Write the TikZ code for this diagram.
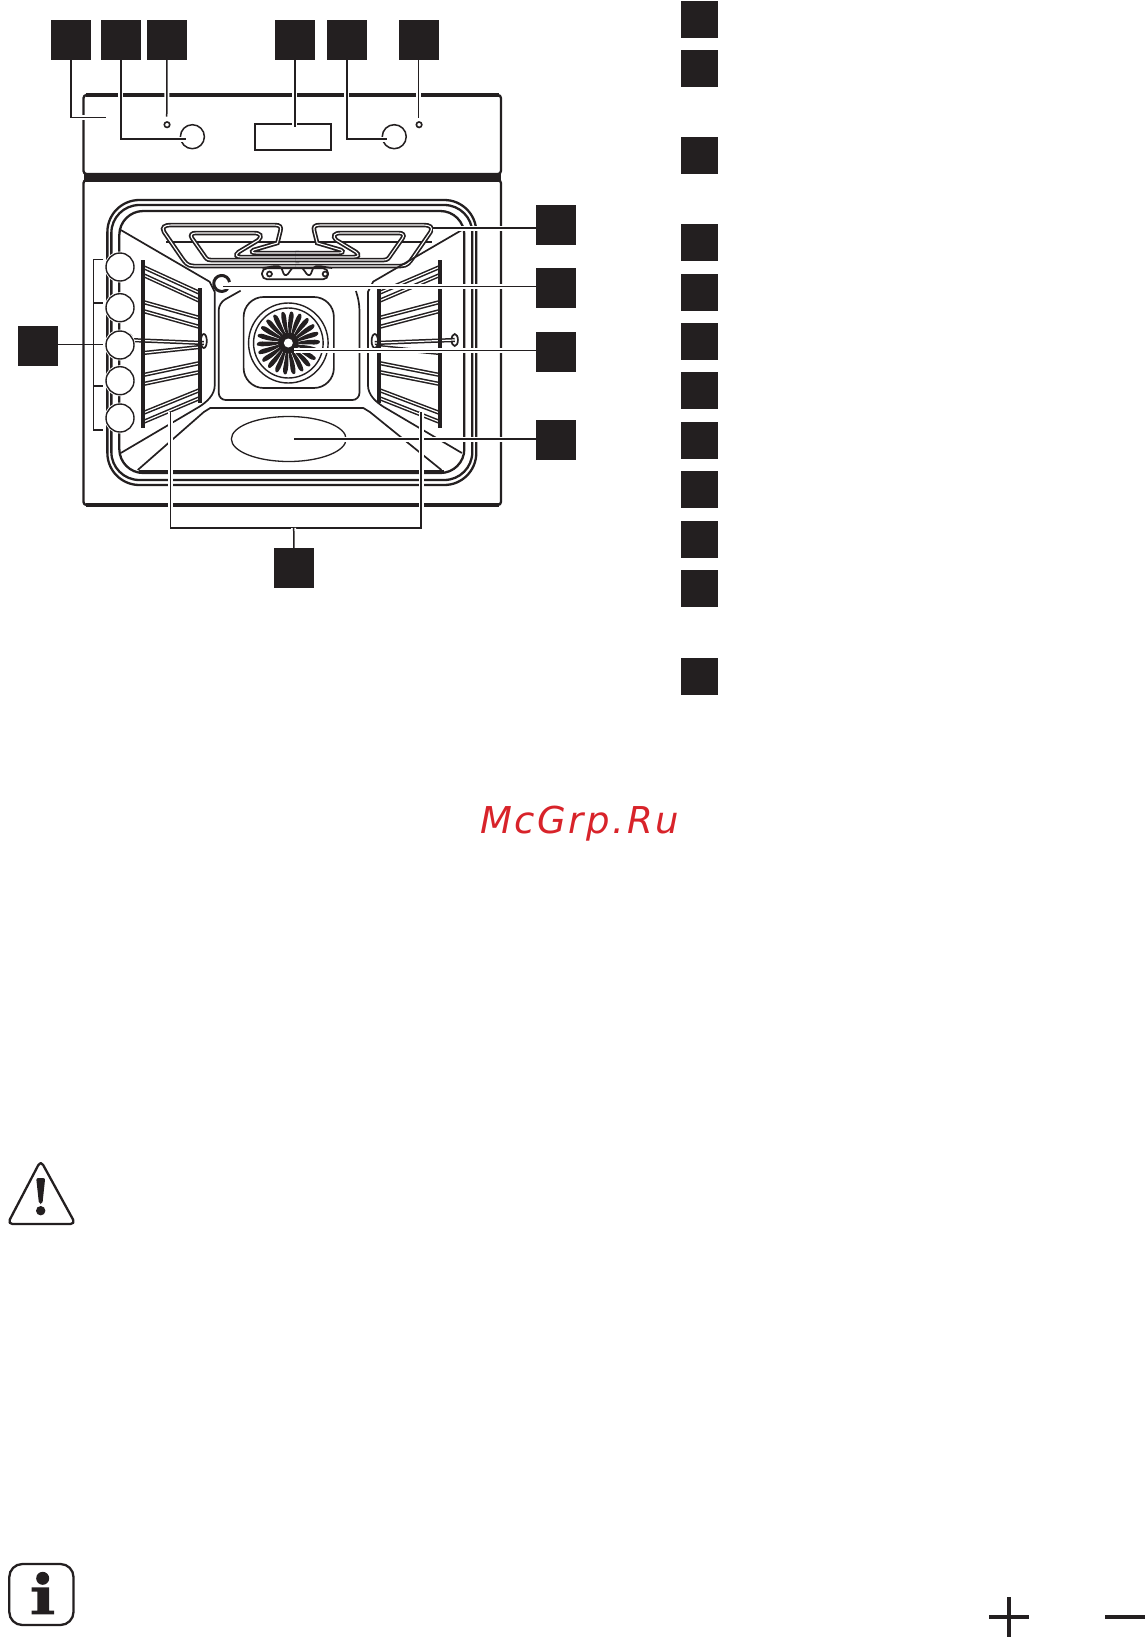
\documentclass[tikz,border=0pt]{standalone}
\usepackage{xcolor}
\usepackage{fontspec}
\setmainfont{DejaVu Sans}
\newfontfamily\markfont[LetterSpace=7]{DejaVu Sans Oblique}
\usepackage{tikz}
\definecolor{ink}{HTML}{231F20}
\definecolor{markred}{HTML}{D8232A}
\tikzstyle{numbox} = [rectangle, minimum width=40pt, minimum height=40pt, inner sep=0pt, fill=ink]
\tikzstyle{listbox} = [rectangle, minimum width=37pt, minimum height=37pt, inner sep=0pt, fill=ink]
\tikzset{
  line/.style={draw=ink, line width=1.7pt},
  frame/.style={draw=ink, line width=2.3pt},
  tube/.style={draw=ink, double=white, double distance=1.1pt, line width=1.7pt},
  rail/.style={draw=ink, double=white, double distance=1.2pt, line width=1.5pt},
  leader/.style={draw=ink, line width=1.5pt, preaction={draw=white, line width=5pt}},
  bracket/.style={draw=ink, line width=1.5pt},
  shelf/.style={circle, minimum size=28pt, inner sep=0pt, draw=ink, line width=1.4pt, fill=white},
}
% one side wall of the cavity
\newcommand{\sidewall}{
\draw [line] (121.5,230) -- (210.8,281.7) -- (216,292) -- (216,385) .. controls (216,395) and (208,402) .. (200,407) -- (121.5,453);
}
% shelf rails of one side
\newcommand{\siderails}{
\draw [rail] (144,267) -- (201,293);
\draw [rail] (144,275) -- (201,301);
\draw [rail] (144,302) -- (201,318);
\draw [rail] (144,311) -- (201,327);
\draw [line] (130,340) ellipse (3 and 6);
\draw [line] (205,341) ellipse (3 and 7);
\draw [rail] (130,340) -- (205,343);
\draw [rail] (144,353) -- (201,347);
\draw [rail] (144,375) -- (201,363);
\draw [rail] (144,384) -- (201,372);
\draw [rail] (144,413) -- (201,390);
\draw [rail] (144,422) -- (201,398);
\draw [draw=ink, line width=3.4pt] (144,260) -- (144,428);
\draw [draw=ink, line width=3.4pt] (201,288) -- (201,403);
}
% one half of the grill element
\newcommand{\grillhalf}{
\draw [tube] (301,266) -- (195,266) .. controls (188,266) and (186,262) .. (183,258) -- (165,232) .. controls (162,227) and (166,225) .. (172,225) -- (276,225) .. controls (282,225) and (283,227) .. (282,231) -- (279,243) -- (255,250) .. controls (252,252) and (254,253) .. (258,253) -- (301,253);
\draw [tube] (301,260) -- (212,260) .. controls (208,260) and (207,258) .. (205,255) -- (193,238) .. controls (191,235) and (193,233) .. (197,233) -- (255,233) .. controls (262,233) and (264,236) .. (260,240) -- (240,252) .. controls (236,255) and (238,257) .. (242,257) -- (301,257);
\draw [line] (264,268) .. controls (274,267) and (280,264) .. (283,268) .. controls (285,272) and (285,276) .. (288,275) .. controls (291,274) and (291,270) .. (294,268);
\draw [line] (271,274) circle (2.5);
}

\begin{document}
\begin{tikzpicture}[x=1pt, y=-1pt]
\useasboundingbox (0,0) rectangle (1146,1638);

\begin{scope}[x=0.9943pt]
% panel and body
\draw [frame, rounded corners=3pt, fill=white] (84,95) rectangle (503.8,174);
\draw [draw=ink, line width=3.6pt] (86,95) -- (502,95);
\fill [ink] (84,173) rectangle (503.8,182);
\draw [frame, rounded corners=3pt] (84,180) rectangle (503.8,505);
\draw [draw=ink, line width=3.6pt] (86,505) -- (502,505);
\node (display) [draw=ink, line width=1.8pt, minimum width=76pt, minimum height=26pt, inner sep=0pt] at (295,137) {};
\node (knobl) [circle, draw=ink, line width=1.5pt, minimum size=24pt, inner sep=0pt] at (193.5,136.7) {};
\node (knobr) [circle, draw=ink, line width=1.5pt, minimum size=24pt, inner sep=0pt] at (396.5,136.7) {};
\node (lampl) [circle, draw=ink, line width=1.6pt, minimum size=5.5pt, inner sep=0pt] at (168,124.7) {};
\node (lampr) [circle, draw=ink, line width=1.6pt, minimum size=5.5pt, inner sep=0pt] at (421.5,124.7) {};

% cavity frames
\draw [frame, rounded corners=32pt] (108,200) rectangle (479,485);
\draw [frame, rounded corners=28pt] (112,205) rectangle (475,480);
\draw [frame, rounded corners=24pt] (120,211) rectangle (467,473);
\draw [draw=ink, line width=3.8pt] (140,472) -- (447,472);

% back wall and floor
\draw [line, rounded corners=7pt] (242,290.7) -- (220,303) -- (220,400) -- (361.5,400) -- (361.5,303) -- (358,291);
\draw [line] (138.5,470) -- (205,412) -- (211.5,408) -- (365.4,408) -- (372,412) -- (444,470);
\draw [line, line width=1.3pt] (290.4,439) ellipse (57.7 and 22.5);

% fan
\draw [line, rounded corners=20pt] (245,297) rectangle (335.8,388);
\coordinate (fanc) at (290,343);
\draw [line, line width=1.4pt] (fanc) circle (40);
\draw [line, line width=1.4pt] (fanc) circle (35);
\foreach \i in {1,...,22}{
  \fill [ink, shift={(fanc)}, rotate=\i*16.36] (10,-1.2) .. controls (18,-3) and (26,-4.2) .. (31,-2.6) .. controls (33.5,-0.8) and (30,1.8) .. (26,1.5) .. controls (20,1.3) and (14,1.2) .. (10,1.2) -- cycle;
}
\fill [ink] (fanc) circle (10.5);
\fill [white] (fanc) circle (4.5);

% grill
\draw [draw=ink, line width=2pt] (167,241.7) -- (434,241.7);
\draw [line, rounded corners=5pt, fill=white] (263.5,268.3) rectangle (330,279.3);
\grillhalf
\begin{scope}[xshift=594.6pt, xscale=-1]
\grillhalf
\end{scope}

% walls and rails
\sidewall
\begin{scope}[xshift=582.7pt, xscale=-1]
\sidewall
\end{scope}
\siderails
\begin{scope}[xshift=593.3pt, xscale=-1.072]
\siderails
\end{scope}
\draw [draw=ink, line width=3pt] (229.1,288.6) arc (40:350:8);

% shelf positions
\foreach \n/\y in {1/267,2/307.7,3/345,4/380.7,5/418}{
  \fill [white] (120.7,\y) circle (15.5);
  \node (shelf\n) [shelf] at (120.7,\y) {};
}

\coordinate (bk1) at (93.8,259.3);
\coordinate (bk2) at (93.8,303);
\coordinate (bk3) at (93.8,344.3);
\coordinate (bk4) at (93.8,386);
\coordinate (bk5) at (93.8,430);
\coordinate (bke1) at (104,259.3);
\coordinate (bke2) at (104,303);
\coordinate (bke3) at (104,344.3);
\coordinate (bke4) at (104,386);
\coordinate (bke5) at (104,430);

% leader ends
\coordinate (panelend) at (106.5,117.7);
\coordinate (knoblend) at (187.3,139);
\coordinate (lamplend) at (167.7,116.7);
\coordinate (dispend) at (296.5,127);
\coordinate (knobrend) at (389,139);
\coordinate (lamprend) at (421,118);
\coordinate (grillend) at (435.8,228);
\coordinate (sensorend) at (224,286.7);
\coordinate (fanend) at (296,350.7);
\coordinate (floorend) at (296,439);
\coordinate (rackl) at (171.5,411.7);
\coordinate (rackr) at (423.5,411.7);
\coordinate (rackjoin) at (295.4,528);

% number boxes
\node (sq1) [numbox] at (71.3,40) {};
\node (sq2) [numbox] at (121.5,40) {};
\node (sq3) [numbox] at (167.8,40) {};
\node (sq4) [numbox] at (296.5,40) {};
\node (sq5) [numbox] at (348.8,40) {};
\node (sq6) [numbox] at (421,40) {};
\node (sq7) [numbox] at (559,225) {};
\node (sq8) [numbox] at (559,288) {};
\node (sq9) [numbox] at (559,352) {};
\node (sq10) [numbox] at (559,440) {};
\node (sq11) [numbox] at (295.6,568) {};
\node (sq12) [numbox] at (38.2,346) {};

\draw [leader] (sq1.south) |- (panelend);
\draw [leader] (sq2.south) |- (knoblend);
\draw [leader] (sq3.south) -- (lamplend);
\draw [leader] (sq4.south) -- (dispend);
\draw [leader] (sq5.south) |- (knobrend);
\draw [leader] (sq6.south) -- (lamprend);
\draw [leader] (sq7.west |- grillend) -- (grillend);
\draw [leader] (sq8.west |- sensorend) -- (sensorend);
\draw [leader] (sq9.west |- fanend) -- (fanend);
\draw [leader] (sq10.west |- floorend) -- (floorend);
\draw [leader] (rackl) |- (rackjoin) -| (rackr);
\draw [leader] (sq11.north) -- (rackjoin);
\draw [bracket] (bke1) -- (bk1) -- (bk5) -- (bke5);
\draw [bracket] (bk2) -- (bke2);
\draw [bracket] (bk4) -- (bke4);
\draw [bracket] (sq12.east |- bke3) -- (bke3);
\end{scope}

% list boxes on the right
\foreach \n/\y in {1/19.3,2/68.4,3/155.7,4/242.3,5/292.5,6/341.6,7/390.8,8/440.3,9/489.4,10/539,11/588,12/676.4}{
  \node (item\n) [listbox] at (699.5,\y) {};
}

\node (mark) [anchor=base west, inner sep=0pt, text=markred, font=\markfont\fontsize{37}{37}\selectfont] at (480,833) {McGrp.Ru};

% warning sign
\draw [frame, line join=round, rounded corners=5pt] (40.7,1160.5) -- (75.5,1224) -- (7.5,1224) -- cycle;
\fill [ink, rounded corners=2pt] (36.2,1178) -- (45.2,1178) -- (42.4,1204) -- (39,1204) -- cycle;
\fill [ink] (40.7,1210.7) circle (4.7);

% info sign
\draw [frame, rounded corners=13pt] (9.3,1564) rectangle (73.5,1625);
\fill [ink] (42.7,1578.3) circle (6.5);
\fill [ink] (31.7,1587.3) -- (49,1587.3) -- (49,1610.7) -- (54,1610.7) -- (54,1614.3) -- (31.7,1614.3) -- (31.7,1610.7) -- (37.3,1610.7) -- (37.3,1591.7) -- (31.7,1591.7) -- cycle;

% plus and minus
\draw [draw=ink, line width=4.3pt] (989,1617) -- (1029,1617);
\draw [draw=ink, line width=4.3pt] (1009,1597.3) -- (1009,1636.7);
\draw [draw=ink, line width=4.3pt] (1105,1617) -- (1145,1617);
\end{tikzpicture}
\end{document}
